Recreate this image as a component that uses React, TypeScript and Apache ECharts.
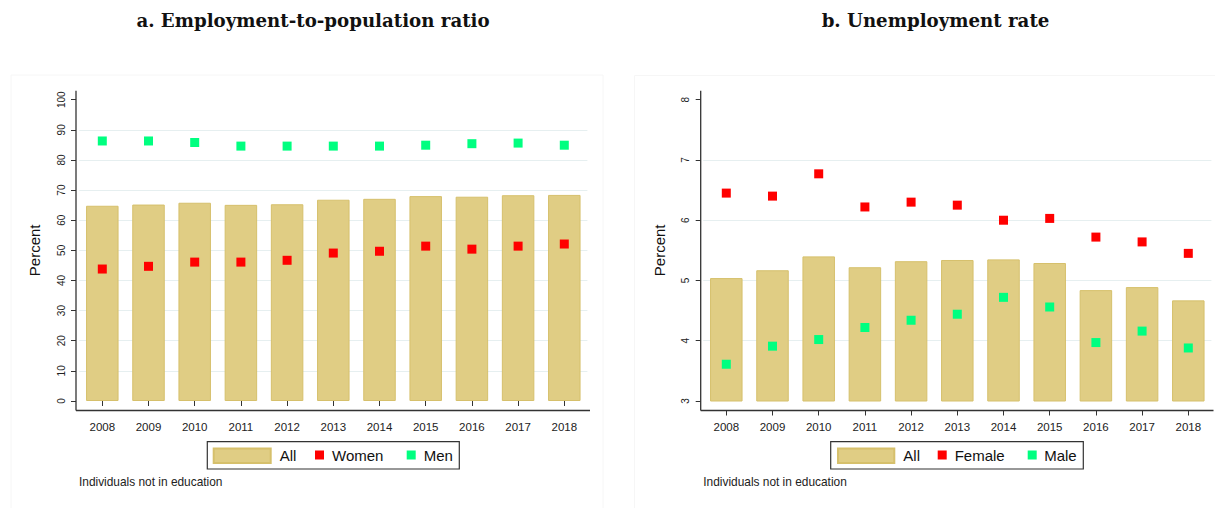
import React, { useEffect, useRef } from "react";
import * as echarts from "echarts";

const years = ["2008", "2009", "2010", "2011", "2012", "2013", "2014", "2015", "2016", "2017", "2018"];

const empAll = [64.8, 65.2, 65.8, 65.1, 65.3, 66.8, 67.1, 68.0, 67.8, 68.3, 68.4];
const empWomen = [43.8, 44.7, 46.1, 46.1, 46.7, 49.1, 49.7, 51.4, 50.4, 51.4, 52.1];
const empMen = [86.3, 86.3, 85.8, 84.6, 84.6, 84.6, 84.6, 84.9, 85.4, 85.6, 84.9];

const unAll = [5.04, 5.17, 5.4, 5.22, 5.32, 5.34, 5.35, 5.29, 4.84, 4.89, 4.67];
const unFemale = [6.45, 6.4, 6.77, 6.22, 6.3, 6.25, 6.0, 6.03, 5.72, 5.64, 5.45];
const unMale = [3.61, 3.91, 4.02, 4.22, 4.34, 4.44, 4.72, 4.56, 3.97, 4.16, 3.88];

const titles = ["a. Employment-to-population ratio", "b. Unemployment rate"];
const legendA = ["All", "Women", "Men"];
const legendB = ["All", "Female", "Male"];
const yTitle = "Percent";
const note = "Individuals not in education";

const BAR_FILL = "#e0cd84";
const BAR_BORDER = "#d6c06c";
const RED = "#ff0000";
const GREEN = "#00ff80";
const AXIS = "#333333";
const GRID = "#e6eff0";
const SANS = "Liberation Sans, Arial, sans-serif";

export default function App() {
  const ref = useRef<HTMLDivElement>(null);

  useEffect(() => {
    if (!ref.current) return;
    const chart = echarts.init(ref.current, null, { renderer: "svg" });

    const xAxisBase = (gridIndex: number) => ({
      type: "category",
      gridIndex,
      data: years,
      offset: 9.5,
      axisLine: { show: false },
      axisTick: { show: true, alignWithLabel: true, length: 5, lineStyle: { color: AXIS, width: 1 } },
      axisLabel: { fontSize: 11.5, color: "#222", fontFamily: SANS, margin: 10 },
      splitLine: { show: false },
    });

    const yAxisBase = (gridIndex: number, min: number, max: number, interval: number, offset: number) => ({
      type: "value",
      gridIndex,
      min,
      max,
      interval,
      offset,
      name: yTitle,
      nameLocation: "middle",
      nameGap: 34,
      nameTextStyle: { fontSize: 15, color: "#111", fontFamily: SANS },
      axisLine: { show: false },
      axisTick: { show: true, length: 5, lineStyle: { color: AXIS, width: 1 } },
      axisLabel: { rotate: 90, fontSize: 10, color: "#222", fontFamily: SANS, margin: 10 },
      splitLine: { show: true, showMinLine: false, showMaxLine: false, lineStyle: { color: GRID, width: 1.2 } },
    });

    const barSeries = (name: string, idx: number, data: number[]) => ({
      name,
      type: "bar",
      xAxisIndex: idx,
      yAxisIndex: idx,
      data,
      barWidth: 32.5,
      itemStyle: { color: BAR_FILL, borderColor: BAR_BORDER, borderWidth: 1 },
      z: 2,
    });

    const dotSeries = (name: string, idx: number, data: number[], color: string) => ({
      name,
      type: "scatter",
      xAxisIndex: idx,
      yAxisIndex: idx,
      data,
      symbol: "rect",
      symbolSize: 9,
      itemStyle: { color, opacity: 1 },
      z: 3,
    });

    const legendItem = (name: string, left: number, w: number, h: number, pad: number) => ({
      data: [name],
      left,
      top: 447.5,
      padding: 0,
      itemWidth: w,
      itemHeight: h,
      icon: "rect",
      selectedMode: false,
      textStyle: { fontSize: 15, color: "#111", fontFamily: SANS, padding: [0, 0, 0, pad] },
    });

    const axisLines = (x0: number, x1: number) => [
      { type: "line", shape: { x1: x0, y1: 90.7, x2: x0, y2: 410.5 }, style: { stroke: AXIS, lineWidth: 1.3 }, z: 10 },
      { type: "line", shape: { x1: x0, y1: 410.5, x2: x1, y2: 410.5 }, style: { stroke: AXIS, lineWidth: 1.3 }, z: 10 },
    ];

    const titleStyle = { fontFamily: "DejaVu Serif", fontWeight: "bold", fontSize: 18.2, color: "#111" };

    const option = {
      animation: false,
      backgroundColor: "#ffffff",
      title: [
        { text: titles[0], left: 308, top: 6, textAlign: "center", textStyle: titleStyle },
        { text: titles[1], left: 930.5, top: 6, textAlign: "center", textStyle: titleStyle },
      ],
      grid: [
        { left: 79.2, top: 99.7, width: 508.2, height: 301.3, containLabel: false },
        { left: 703.2, top: 99.7, width: 508.2, height: 301.3, containLabel: false },
      ],
      xAxis: [xAxisBase(0), xAxisBase(1)],
      yAxis: [yAxisBase(0, 0, 100, 10, 3.2), yAxisBase(1, 3, 8, 1, 2.5)],
      legend: [
        legendItem(legendA[0], 212.7, 57, 14.6, 4),
        legendItem(legendA[1], 315, 9, 9, 3),
        legendItem(legendA[2], 406.7, 9, 9, 3),
        legendItem(legendB[0], 837, 56.3, 14.6, 4),
        legendItem(legendB[1], 937.7, 9, 9, 3),
        legendItem(legendB[2], 1027.7, 9, 9, 2.5),
      ],
      series: [
        barSeries(legendA[0], 0, empAll),
        dotSeries(legendA[1], 0, empWomen, RED),
        dotSeries(legendA[2], 0, empMen, GREEN),
        barSeries(legendB[0], 1, unAll),
        dotSeries(legendB[1], 1, unFemale, RED),
        dotSeries(legendB[2], 1, unMale, GREEN),
      ],
      graphic: [
        { type: "rect", shape: { x: 11, y: 75, width: 592, height: 450 }, style: { fill: "none", stroke: "#f6f6f6", lineWidth: 1 }, z: -1 },
        { type: "rect", shape: { x: 634.5, y: 75.5, width: 600, height: 450 }, style: { fill: "none", stroke: "#f6f6f6", lineWidth: 1 }, z: -1 },
        ...axisLines(76, 590),
        ...axisLines(700.7, 1213.5),
        { type: "rect", shape: { x: 207.3, y: 441.7, width: 252, height: 27.3 }, style: { fill: "none", stroke: AXIS, lineWidth: 1.2 }, z: 10 },
        { type: "rect", shape: { x: 830.7, y: 441.7, width: 252.6, height: 27.3 }, style: { fill: "none", stroke: AXIS, lineWidth: 1.2 }, z: 10 },
        { type: "text", x: 79, y: 482.3, style: { text: note, fontSize: 11.9, fontFamily: SANS, fill: "#222", verticalAlign: "middle", align: "left" }, z: 10 },
        { type: "text", x: 703.3, y: 482.3, style: { text: note, fontSize: 11.9, fontFamily: SANS, fill: "#222", verticalAlign: "middle", align: "left" }, z: 10 },
      ],
    };

    chart.setOption(option as any);
    return () => chart.dispose();
  }, []);

  return (
    <div
      ref={ref}
      style={{ position: "fixed", left: 0, top: 0, width: 1215, height: 508, background: "#fff" }}
    />
  );
}
